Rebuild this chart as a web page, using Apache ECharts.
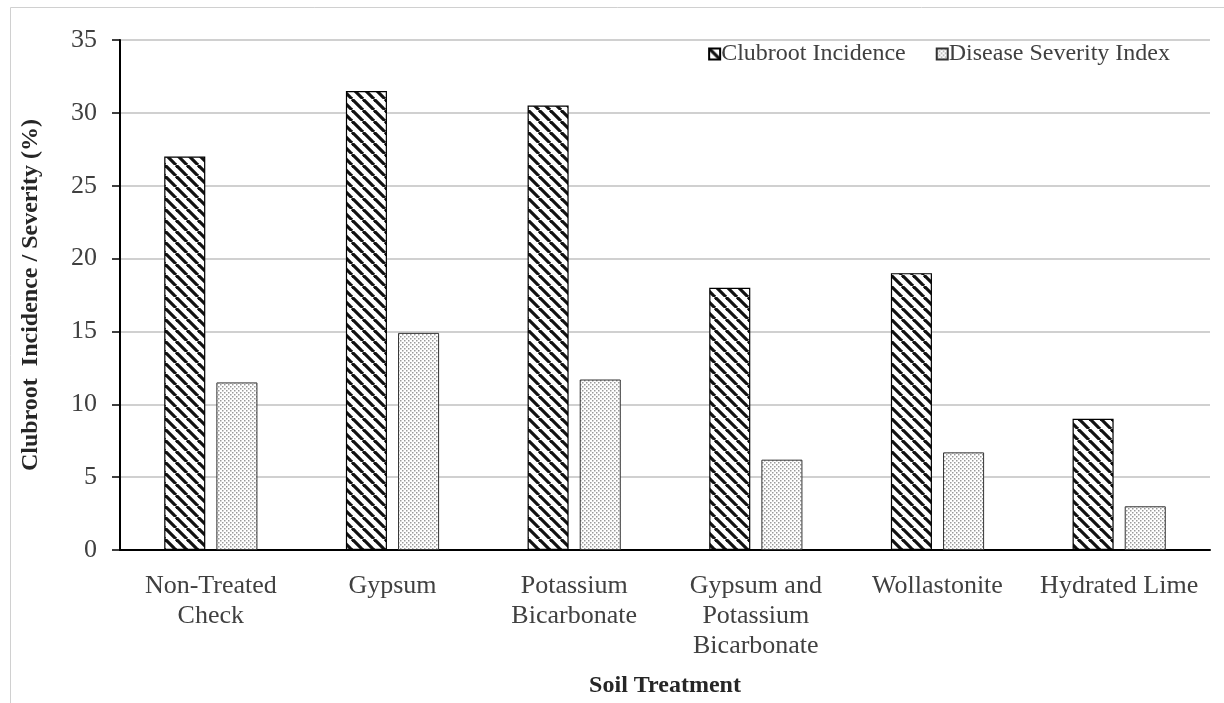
<!DOCTYPE html>
<html>
<head>
<meta charset="utf-8">
<script src="https://cdn.jsdelivr.net/npm/echarts@6/dist/echarts.min.js"></script>
<style>html,body{margin:0;padding:0;background:#fff;}#c{width:1224px;height:703px;}</style>
</head>
<body>
<div id="c"></div>
<script>
var categories = ['Non-Treated\nCheck', 'Gypsum', 'Potassium\nBicarbonate', 'Gypsum and\nPotassium\nBicarbonate', 'Wollastonite', 'Hydrated Lime'];
var clubrootIncidence = [27, 31.5, 30.5, 18, 19, 9];
var diseaseSeverity = [11.5, 14.9, 11.7, 6.2, 6.7, 3.0];
var yTicks = [0, 5, 10, 15, 20, 25, 30, 35];

function hatch() {
  var s = 11, c = document.createElement('canvas');
  c.width = s; c.height = s;
  var g = c.getContext('2d');
  g.fillStyle = '#fff'; g.fillRect(0, 0, s, s);
  g.strokeStyle = '#111'; g.lineWidth = 3.2;
  for (var k = -s; k <= s; k += s) {
    g.beginPath(); g.moveTo(k, 0); g.lineTo(k + s, s); g.stroke();
  }
  return c;
}
function dots() {
  var s = 4, c = document.createElement('canvas');
  c.width = s; c.height = s;
  var g = c.getContext('2d');
  g.fillStyle = '#fff'; g.fillRect(0, 0, s, s);
  g.fillStyle = '#9a9a9a';
  g.fillRect(0, 0, 1.5, 1.5); g.fillRect(2, 2, 1.5, 1.5);
  return c;
}
var hatchPat = {image: hatch(), repeat: 'repeat'};
var dotPat = {image: dots(), repeat: 'repeat'};
var serif = '"Liberation Serif", "Times New Roman", serif';

var chart = echarts.init(document.getElementById('c'));
chart.setOption({
  animation: false,
  backgroundColor: '#fff',
  graphic: [{
    type: 'rect', silent: true,
    shape: {x: 10.5, y: 7.5, width: 1400, height: 900},
    style: {fill: 'none', stroke: '#d0d0d0', lineWidth: 1}
  }],
  grid: {left: 120, right: 14, top: 40, bottom: 149},
  legend: {
    right: 49, top: 37,
    itemWidth: 11, itemHeight: 11, itemGap: 30,
    textStyle: {fontFamily: serif, fontSize: 24, color: '#404040', padding: [0, 0, 0, -4]},
    data: [
      {name: 'Clubroot Incidence', icon: 'rect'},
      {name: 'Disease Severity Index', icon: 'rect'}
    ]
  },
  xAxis: {
    type: 'category',
    data: categories,
    name: 'Soil Treatment',
    nameLocation: 'middle',
    nameGap: 124,
    nameTextStyle: {fontFamily: serif, fontSize: 24, fontWeight: 'bold', color: '#262626'},
    axisLine: {lineStyle: {color: '#000', width: 2}},
    axisTick: {show: false},
    axisLabel: {fontFamily: serif, fontSize: 26, color: '#404040', lineHeight: 30, margin: 21, interval: 0}
  },
  yAxis: {
    type: 'value',
    min: 0, max: 35, interval: 5,
    name: 'Clubroot  Incidence / Severity (%)',
    nameLocation: 'middle',
    nameGap: 77,
    nameTextStyle: {fontFamily: serif, fontSize: 24, fontWeight: 'bold', color: '#262626'},
    axisLine: {show: true, lineStyle: {color: '#000', width: 2}},
    axisTick: {show: true, length: 8, lineStyle: {color: '#000', width: 1.5}},
    axisLabel: {fontFamily: serif, fontSize: 26, color: '#404040', margin: 23,
      formatter: function (v) { return yTicks.indexOf(v) >= 0 ? String(v) : ''; }},
    splitLine: {lineStyle: {color: '#d0d0d0', width: 2}}
  },
  series: [
    {
      name: 'Clubroot Incidence', type: 'bar',
      data: clubrootIncidence,
      barWidth: '22.6%', barGap: '27%',
      itemStyle: {color: hatchPat, borderColor: '#000', borderWidth: 1.2}
    },
    {
      name: 'Disease Severity Index', type: 'bar',
      data: diseaseSeverity,
      barWidth: '22.6%',
      itemStyle: {color: dotPat, borderColor: '#333', borderWidth: 1}
    }
  ]
});
</script>
</body>
</html>
